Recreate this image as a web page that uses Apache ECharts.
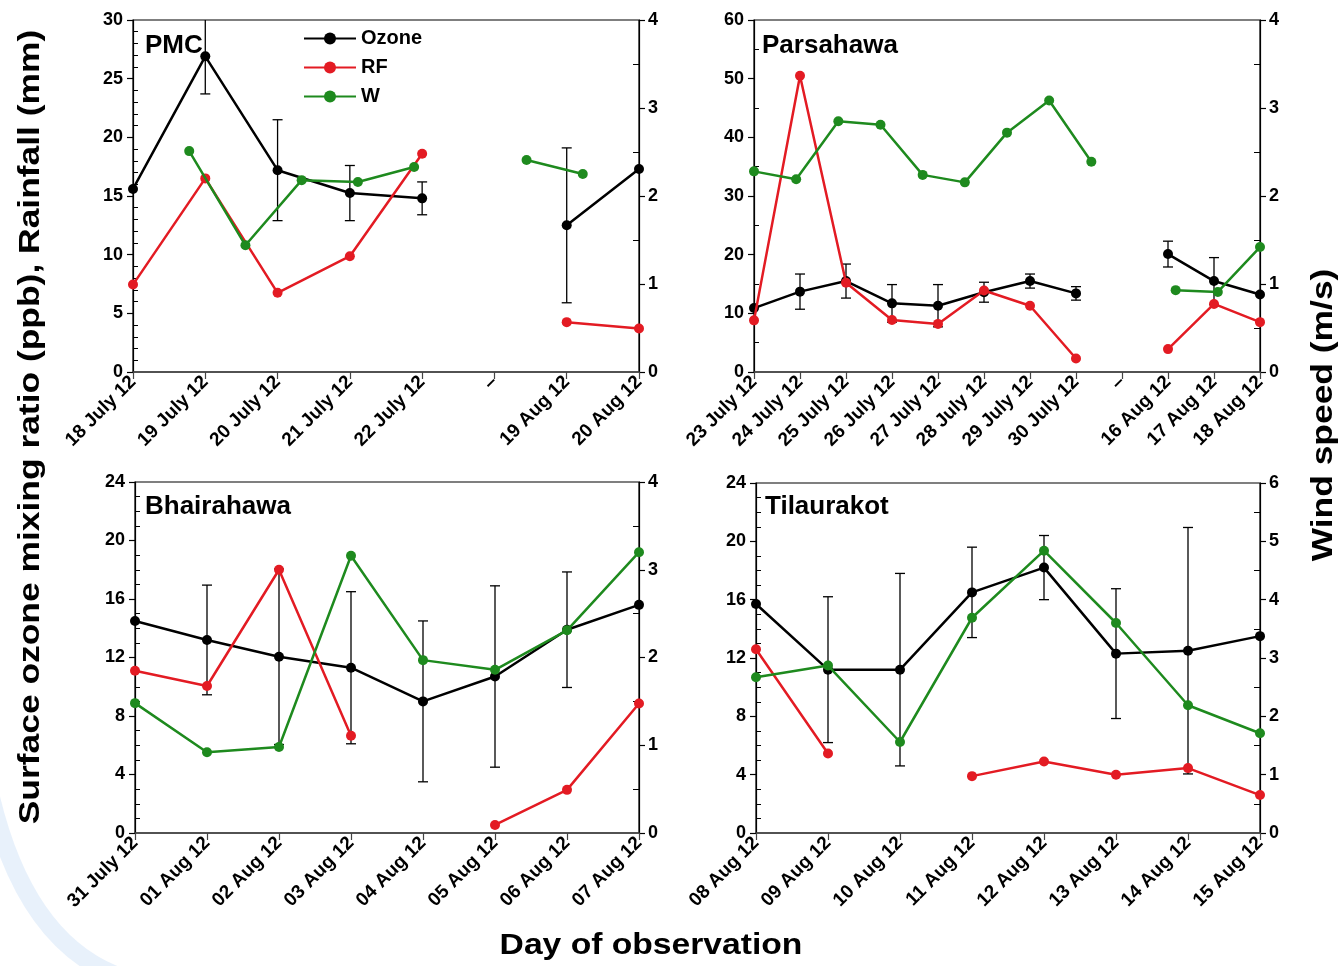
<!DOCTYPE html>
<html>
<head>
<meta charset="utf-8">
<script src="https://cdn.jsdelivr.net/npm/echarts@6/dist/echarts.min.js"></script>
<style>
  html, body { margin: 0; padding: 0; background: #ffffff; }
  #chart { width: 1343px; height: 966px; }
</style>
</head>
<body>
<div id="chart"></div>
<script>
// ---------- PMC ----------
const pmcDays   = ['18 July 12', '19 July 12', '20 July 12', '21 July 12', '22 July 12', '–', '19 Aug 12', '20 Aug 12'];
const pmcOzone  = [15.6, 26.9, 17.2, 15.25, 14.8, null, 12.5, 17.3];
const pmcOzErr  = [null, 3.2, 4.3, 2.35, 1.4, null, 6.6, null];
const pmcRain   = [7.45, 16.5, 6.75, 9.87, 18.6, null, 4.25, 3.7];
// wind readings sit on their own finer time grid
const pmcWind   = [null, 2.51, 1.44, 2.18, 2.16, 2.33, null, 2.41, 2.25, null];

// ---------- Parsahawa ----------
const parDays   = ['23 July 12', '24 July 12', '25 July 12', '26 July 12', '27 July 12', '28 July 12', '29 July 12', '30 July 12', '–', '16 Aug 12', '17 Aug 12', '18 Aug 12'];
const parOzone  = [10.9, 13.7, 15.5, 11.7, 11.3, 13.6, 15.5, 13.4, null, 20.1, 15.5, 13.2];
const parOzErr  = [null, 3.0, 2.9, 3.2, 3.6, 1.7, 1.2, 1.15, null, 2.2, 4.0, null];
const parRain   = [8.8, 50.5, 15.2, 8.85, 8.2, 13.9, 11.3, 2.3, null, 3.9, 11.6, 8.5];
const parWind   = [2.28, 2.19, 2.85, 2.81, 2.24, 2.155, 2.72, 3.085, 2.39, null, 0.93, 0.91, 1.42];

// ---------- Bhairahawa ----------
const bhaDays   = ['31 July 12', '01 Aug 12', '02 Aug 12', '03 Aug 12', '04 Aug 12', '05 Aug 12', '06 Aug 12', '07 Aug 12'];
const bhaOzone  = [14.5, 13.2, 12.05, 11.3, 9.0, 10.7, 13.9, 15.6];
const bhaOzErr  = [null, 3.75, 6.0, 5.2, 5.5, 6.2, 3.95, null];
const bhaRain   = [11.1, 10.05, 18.0, 6.65, null, 0.55, 2.95, 8.85];
const bhaWind   = [1.48, 0.92, 0.98, 3.16, 1.97, 1.86, 2.31, 3.2];

// ---------- Tilaurakot ----------
const tilDays   = ['08 Aug 12', '09 Aug 12', '10 Aug 12', '11 Aug 12', '12 Aug 12', '13 Aug 12', '14 Aug 12', '15 Aug 12'];
const tilOzone  = [15.7, 11.2, 11.2, 16.5, 18.2, 12.3, 12.5, 13.5];
const tilOzErr  = [null, 5.0, 6.6, 3.1, 2.2, 4.45, 8.45, null];
const tilRain   = [12.6, 5.45, null, 3.9, 4.9, 4.0, 4.45, 2.6];
const tilWind   = [2.67, 2.87, 1.56, 3.69, 4.84, 3.6, 2.19, 1.71];

// ---------- axis ranges ----------
const leftMax   = [30, 60, 24, 24];
const leftStep  = [5, 10, 4, 4];
const leftMinor = [5, 2, 4, 4];
const rightMax  = [4, 4, 4, 6];
const rightStep = [1, 1, 1, 1];

const FONT = '"Liberation Sans", Arial, Helvetica, sans-serif';
const BLACK = '#000000';
const RED = '#e31b23';
const GREEN = '#1e8a1e';

const panels = [
  { name: 'PMC',        days: pmcDays, oz: pmcOzone, err: pmcOzErr, rf: pmcRain, w: pmcWind,
    grid: { left: 133, top: 20, width: 506, height: 352 }, title: { left: 145, top: 33 } },
  { name: 'Parsahawa',  days: parDays, oz: parOzone, err: parOzErr, rf: parRain, w: parWind,
    grid: { left: 754, top: 20, width: 506, height: 352 }, title: { left: 762, top: 33 } },
  { name: 'Bhairahawa', days: bhaDays, oz: bhaOzone, err: bhaOzErr, rf: bhaRain, w: bhaWind,
    grid: { left: 135, top: 482, width: 504, height: 351 }, title: { left: 145, top: 494 } },
  { name: 'Tilaurakot', days: tilDays, oz: tilOzone, err: tilOzErr, rf: tilRain, w: tilWind,
    grid: { left: 756, top: 483, width: 504, height: 350 }, title: { left: 765, top: 494 } }
];

const grids = [], xAxes = [], yAxes = [], series = [], titles = [];

function errorBarItem(params, api) {
  const x = api.value(0);
  const lo = api.coord([x, api.value(1)]);
  const hi = api.coord([x, api.value(2)]);
  const cs = params.coordSys;
  const top = cs.y, bottom = cs.y + cs.height;
  const yTop = Math.max(hi[1], top);
  const yBot = Math.min(lo[1], bottom);
  const half = 5;
  const style = { stroke: BLACK, lineWidth: 1.3 };
  const children = [{ type: 'line', shape: { x1: hi[0], y1: yTop, x2: hi[0], y2: yBot }, style }];
  if (hi[1] >= top) children.push({ type: 'line', shape: { x1: hi[0] - half, y1: yTop, x2: hi[0] + half, y2: yTop }, style });
  if (lo[1] <= bottom) children.push({ type: 'line', shape: { x1: lo[0] - half, y1: yBot, x2: lo[0] + half, y2: yBot }, style });
  return { type: 'group', children };
}

panels.forEach((p, i) => {
  grids.push(Object.assign({ show: true, borderColor: BLACK, borderWidth: 1.2, backgroundColor: 'transparent' }, p.grid));
  titles.push({
    text: p.name, left: p.title.left, top: p.title.top, padding: 0,
    textStyle: { fontFamily: FONT, fontWeight: 'bold', fontSize: 26, color: BLACK }
  });

  // date axis
  xAxes.push({
    type: 'category', gridIndex: i, data: p.days, boundaryGap: false, position: 'bottom',
    axisLine: { show: true, lineStyle: { color: '#444', width: 1.6 } },
    axisTick: { show: true, length: 7, interval: 0, lineStyle: { color: '#444', width: 1.2 } },
    axisLabel: { interval: 0, rotate: 45, margin: 7, fontFamily: FONT, fontWeight: 'bold', fontSize: 19, color: BLACK },
    splitLine: { show: false }
  });
  // finer grid for wind readings
  xAxes.push({
    type: 'category', gridIndex: i, data: p.w.map((_, k) => k), boundaryGap: false, show: false
  });

  yAxes.push({
    type: 'value', gridIndex: i, position: 'left', min: 0, max: leftMax[i], interval: leftStep[i],
    axisLine: { show: true, lineStyle: { color: BLACK, width: 1.2 } },
    axisTick: { show: true, length: 6, lineStyle: { color: BLACK, width: 1.2 } },
    minorTick: { show: true, splitNumber: leftMinor[i], length: -5, lineStyle: { color: BLACK, width: 1 } },
    axisLabel: { margin: 10, fontFamily: FONT, fontWeight: 'bold', fontSize: 18, color: BLACK },
    splitLine: { show: false }
  });
  yAxes.push({
    type: 'value', gridIndex: i, position: 'right', min: 0, max: rightMax[i], interval: rightStep[i],
    axisLine: { show: true, lineStyle: { color: BLACK, width: 1.2 } },
    axisTick: { show: true, length: 6, lineStyle: { color: BLACK, width: 1.2 } },
    minorTick: { show: true, splitNumber: 2, length: -6, lineStyle: { color: BLACK, width: 1 } },
    axisLabel: { margin: 9, fontFamily: FONT, fontWeight: 'bold', fontSize: 18, color: BLACK },
    splitLine: { show: false }
  });

  const errData = [];
  p.err.forEach((e, k) => { if (e != null && p.oz[k] != null) errData.push([k, p.oz[k] - e, p.oz[k] + e]); });

  series.push({
    type: 'custom', name: 'Ozone error', xAxisIndex: 2 * i, yAxisIndex: 2 * i,
    data: errData, renderItem: errorBarItem, z: 3, silent: true
  });
  series.push({
    type: 'line', name: 'Ozone', xAxisIndex: 2 * i, yAxisIndex: 2 * i, data: p.oz,
    connectNulls: false, symbol: 'circle', symbolSize: 10, showAllSymbol: true,
    lineStyle: { color: BLACK, width: 2.5 }, itemStyle: { color: BLACK }, z: 4
  });
  series.push({
    type: 'line', name: 'RF', xAxisIndex: 2 * i, yAxisIndex: 2 * i, data: p.rf,
    connectNulls: false, symbol: 'circle', symbolSize: 10, showAllSymbol: true,
    lineStyle: { color: RED, width: 2.5 }, itemStyle: { color: RED }, z: 5
  });
  series.push({
    type: 'line', name: 'W', xAxisIndex: 2 * i + 1, yAxisIndex: 2 * i + 1, data: p.w,
    connectNulls: false, symbol: 'circle', symbolSize: 10, showAllSymbol: true,
    lineStyle: { color: GREEN, width: 2.5 }, itemStyle: { color: GREEN }, z: 6
  });
});

const chart = echarts.init(document.getElementById('chart'), null, { renderer: 'canvas' });
chart.setOption({
  animation: false,
  backgroundColor: '#ffffff',
  title: titles,
  legend: {
    data: ['Ozone', 'RF', 'W'], orient: 'vertical', left: 303, top: 28,
    itemWidth: 52, itemHeight: 15, itemGap: 8, padding: 0,
    textStyle: { fontFamily: FONT, fontWeight: 'bold', fontSize: 20, color: BLACK, lineHeight: 21 },
    selectedMode: false
  },
  grid: grids,
  xAxis: xAxes,
  yAxis: yAxes,
  series: series,
  graphic: [
    {
      type: 'bezierCurve', silent: true, z: -10,
      shape: { x1: -20, y1: 740, cpx1: 10, cpy1: 945, x2: 130, y2: 980 },
      style: { stroke: 'rgba(205,225,246,0.45)', lineWidth: 18, fill: null }
    },
    {
      type: 'text', silent: true, x: 31, y: 427, rotation: Math.PI / 2, scaleX: 1.18,
      style: {
        text: 'Surface ozone mixing ratio (ppb), Rainfall (mm)',
        font: 'bold 30px ' + FONT, fill: BLACK,
        textAlign: 'center', textVerticalAlign: 'middle', align: 'center', verticalAlign: 'middle'
      }
    },
    {
      type: 'text', silent: true, x: 1324, y: 415, rotation: Math.PI / 2, scaleX: 1.18,
      style: {
        text: 'Wind speed (m/s)',
        font: 'bold 30px ' + FONT, fill: BLACK,
        textAlign: 'center', textVerticalAlign: 'middle', align: 'center', verticalAlign: 'middle'
      }
    },
    {
      type: 'text', silent: true, x: 651, y: 946, scaleX: 1.16,
      style: {
        text: 'Day of observation',
        font: 'bold 29px ' + FONT, fill: BLACK,
        textAlign: 'center', textVerticalAlign: 'middle', align: 'center', verticalAlign: 'middle'
      }
    }
  ]
});
</script>
</body>
</html>
